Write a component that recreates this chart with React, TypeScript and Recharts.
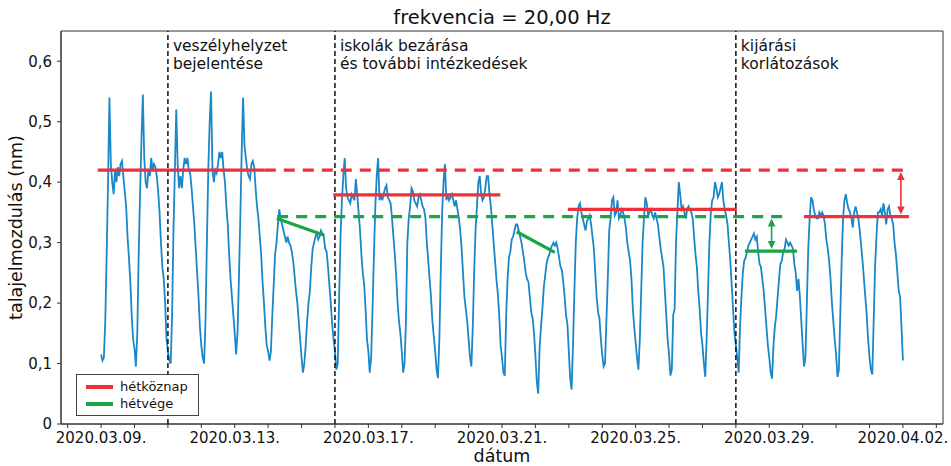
import {
  LineChart, Line, XAxis, YAxis, ReferenceLine, ReferenceArea, Legend, Label,
} from "recharts";

const FONT = "'DejaVu Sans', sans-serif";
const BLUE = "#1a87c8";
const RED = "#eb323c";
const GREEN = "#19a546";
const INK = "#111";

// hourly ground displacement (nm), 00:00 .. 23:00 each day
const mar09 = [0.115, 0.105, 0.11, 0.17, 0.28, 0.40, 0.54, 0.43, 0.40, 0.38, 0.42, 0.40, 0.425, 0.41, 0.43, 0.435, 0.41, 0.385, 0.36, 0.31, 0.275, 0.235, 0.18, 0.14];
const mar10 = [0.125, 0.095, 0.15, 0.28, 0.38, 0.47, 0.545, 0.44, 0.40, 0.39, 0.42, 0.41, 0.44, 0.42, 0.43, 0.425, 0.41, 0.385, 0.35, 0.30, 0.26, 0.24, 0.20, 0.14];
const mar11 = [0.12, 0.105, 0.10, 0.18, 0.32, 0.42, 0.52, 0.43, 0.39, 0.41, 0.39, 0.42, 0.44, 0.43, 0.44, 0.42, 0.415, 0.39, 0.36, 0.33, 0.29, 0.25, 0.21, 0.16];
const mar12 = [0.13, 0.11, 0.10, 0.17, 0.30, 0.42, 0.50, 0.55, 0.42, 0.40, 0.42, 0.415, 0.43, 0.45, 0.44, 0.45, 0.42, 0.40, 0.36, 0.33, 0.28, 0.24, 0.21, 0.18];
const mar13 = [0.15, 0.115, 0.15, 0.24, 0.34, 0.45, 0.54, 0.46, 0.44, 0.42, 0.41, 0.405, 0.43, 0.435, 0.425, 0.39, 0.36, 0.34, 0.31, 0.28, 0.235, 0.20, 0.16, 0.13];
const mar14 = [0.12, 0.105, 0.12, 0.18, 0.23, 0.28, 0.30, 0.33, 0.355, 0.34, 0.33, 0.32, 0.31, 0.30, 0.31, 0.30, 0.295, 0.285, 0.27, 0.245, 0.22, 0.20, 0.17, 0.14];
const mar15 = [0.11, 0.085, 0.10, 0.13, 0.17, 0.20, 0.22, 0.26, 0.29, 0.30, 0.31, 0.315, 0.305, 0.31, 0.32, 0.315, 0.31, 0.29, 0.285, 0.26, 0.23, 0.20, 0.165, 0.14];
const mar16 = [0.12, 0.09, 0.10, 0.21, 0.31, 0.37, 0.41, 0.44, 0.39, 0.375, 0.37, 0.365, 0.38, 0.375, 0.37, 0.405, 0.38, 0.35, 0.32, 0.28, 0.25, 0.23, 0.19, 0.14];
const mar17 = [0.12, 0.085, 0.11, 0.19, 0.28, 0.36, 0.41, 0.44, 0.37, 0.38, 0.37, 0.38, 0.39, 0.395, 0.375, 0.37, 0.365, 0.34, 0.31, 0.28, 0.245, 0.20, 0.17, 0.15];
const mar18 = [0.12, 0.085, 0.10, 0.17, 0.30, 0.34, 0.36, 0.39, 0.385, 0.37, 0.365, 0.36, 0.375, 0.38, 0.37, 0.36, 0.355, 0.34, 0.30, 0.27, 0.24, 0.21, 0.17, 0.145];
const mar19 = [0.12, 0.09, 0.076, 0.14, 0.25, 0.35, 0.40, 0.43, 0.37, 0.38, 0.37, 0.375, 0.38, 0.37, 0.36, 0.37, 0.355, 0.34, 0.32, 0.29, 0.25, 0.21, 0.19, 0.17];
const mar20 = [0.14, 0.11, 0.095, 0.16, 0.25, 0.32, 0.36, 0.40, 0.41, 0.38, 0.37, 0.375, 0.39, 0.41, 0.41, 0.38, 0.36, 0.33, 0.30, 0.27, 0.24, 0.215, 0.18, 0.13];
const mar21 = [0.11, 0.085, 0.08, 0.18, 0.24, 0.275, 0.285, 0.305, 0.31, 0.32, 0.33, 0.33, 0.32, 0.31, 0.30, 0.285, 0.27, 0.25, 0.24, 0.235, 0.21, 0.185, 0.175, 0.15];
const mar22 = [0.113, 0.07, 0.05, 0.125, 0.16, 0.19, 0.225, 0.245, 0.265, 0.275, 0.28, 0.29, 0.295, 0.30, 0.295, 0.30, 0.29, 0.275, 0.26, 0.255, 0.235, 0.21, 0.18, 0.165];
const mar23 = [0.12, 0.075, 0.057, 0.13, 0.22, 0.30, 0.34, 0.36, 0.365, 0.35, 0.34, 0.33, 0.32, 0.335, 0.34, 0.345, 0.33, 0.31, 0.29, 0.25, 0.21, 0.185, 0.175, 0.14];
const mar24 = [0.115, 0.095, 0.10, 0.17, 0.24, 0.32, 0.34, 0.37, 0.375, 0.345, 0.35, 0.37, 0.34, 0.345, 0.355, 0.35, 0.34, 0.325, 0.30, 0.285, 0.27, 0.24, 0.19, 0.16];
const mar25 = [0.135, 0.11, 0.09, 0.14, 0.22, 0.30, 0.34, 0.375, 0.365, 0.345, 0.35, 0.355, 0.345, 0.34, 0.35, 0.34, 0.33, 0.31, 0.29, 0.275, 0.26, 0.22, 0.18, 0.14];
const mar26 = [0.115, 0.08, 0.09, 0.18, 0.19, 0.30, 0.35, 0.40, 0.38, 0.355, 0.36, 0.35, 0.34, 0.355, 0.36, 0.355, 0.35, 0.34, 0.31, 0.28, 0.26, 0.22, 0.19, 0.15];
const mar27 = [0.13, 0.10, 0.078, 0.14, 0.22, 0.30, 0.35, 0.37, 0.375, 0.40, 0.39, 0.375, 0.38, 0.39, 0.40, 0.37, 0.355, 0.345, 0.33, 0.30, 0.27, 0.23, 0.19, 0.15];
const mar28 = [0.13, 0.11, 0.085, 0.16, 0.21, 0.25, 0.27, 0.275, 0.285, 0.295, 0.30, 0.305, 0.31, 0.315, 0.305, 0.31, 0.285, 0.265, 0.26, 0.24, 0.22, 0.19, 0.16, 0.13];
const mar29 = [0.11, 0.085, 0.075, 0.13, 0.16, 0.18, 0.21, 0.24, 0.265, 0.27, 0.285, 0.29, 0.305, 0.30, 0.295, 0.30, 0.295, 0.29, 0.265, 0.25, 0.22, 0.24, 0.21, 0.17];
const mar30 = [0.13, 0.095, 0.11, 0.20, 0.29, 0.34, 0.375, 0.37, 0.355, 0.345, 0.34, 0.34, 0.35, 0.345, 0.35, 0.345, 0.33, 0.305, 0.29, 0.27, 0.24, 0.20, 0.17, 0.14];
const mar31 = [0.115, 0.078, 0.09, 0.18, 0.27, 0.34, 0.37, 0.38, 0.365, 0.355, 0.35, 0.34, 0.325, 0.35, 0.36, 0.35, 0.34, 0.32, 0.295, 0.27, 0.24, 0.21, 0.18, 0.14];
const apr01 = [0.11, 0.09, 0.082, 0.17, 0.26, 0.31, 0.35, 0.35, 0.355, 0.345, 0.365, 0.35, 0.33, 0.355, 0.36, 0.345, 0.34, 0.33, 0.30, 0.28, 0.25, 0.22, 0.21, 0.16];
const apr02 = [0.105];

const days = [
  mar09, mar10, mar11, mar12, mar13, mar14, mar15, mar16, mar17, mar18, mar19, mar20,
  mar21, mar22, mar23, mar24, mar25, mar26, mar27, mar28, mar29, mar30, mar31, apr01, apr02,
];

// x axis: days counted from 2020.03.09. 00:00
const dayTicks = [-1, 0, 1, 2, 3, 4, 5, 6, 7, 8, 9, 10, 11, 12, 13, 14, 15, 16, 17, 18, 19, 20, 21, 22, 23, 24, 25];
const labelDays = [0, 4, 8, 12, 16, 20, 24];
const labelTexts = ["2020.03.09.", "2020.03.13.", "2020.03.17.", "2020.03.21.", "2020.03.25.", "2020.03.29.", "2020.04.02."];
const yTicks = [0, 0.1, 0.2, 0.3, 0.4, 0.5, 0.6];

const events = [
  { day: 2, lines: ["veszélyhelyzet", "bejelentése"] },
  { day: 7, lines: ["iskolák bezárása", "és további intézkedések"] },
  { day: 19, lines: ["kijárási", "korlátozások"] },
];

// mean weekday levels and weekend trends
const weekdayMeans = [
  { from: -0.1, to: 4.9, y: 0.42 },
  { from: 6.95, to: 11.95, y: 0.379 },
  { from: 13.97, to: 19.03, y: 0.355 },
  { from: 21.04, to: 24.18, y: 0.343 },
];
const weekendTrends = [
  { from: 5.26, to: 6.68, y1: 0.34, y2: 0.312 },
  { from: 12.44, to: 13.58, y1: 0.318, y2: 0.284 },
  { from: 19.27, to: 20.83, y1: 0.286, y2: 0.286 },
];
const weekdayBase = { from: 4.9, to: 24.18, y: 0.42 };
const weekendBase = { from: 5.27, to: 20.53, y: 0.343 };
const drops = [
  { day: 23.94, top: 0.42, bottom: 0.343, color: RED },
  { day: 20.07, top: 0.343, bottom: 0.286, color: GREEN },
];

const legendItems = [
  { name: "hétköznap", color: RED },
  { name: "hétvége", color: GREEN },
];

const data = days.flatMap((vals, d) => vals.map((v, h) => ({ t: d + h / 24, v })));

const formatDay = (d: number) => {
  const i = labelDays.indexOf(d);
  return i >= 0 ? labelTexts[i] : "";
};
const formatY = (v: number) => (v === 0 ? "0" : v.toFixed(1).replace(".", ","));

function EventText({ viewBox, lines }: any) {
  if (!viewBox) return null;
  const x = viewBox.x + 5;
  return (
    <text x={x} y={viewBox.y + 20} fontSize={15.5} fill={INK} fontFamily={FONT}>
      {lines.map((l: string, i: number) => (
        <tspan key={l} x={x} dy={i === 0 ? 0 : 18}>{l}</tspan>
      ))}
    </text>
  );
}

function DoubleArrow(props: any) {
  const { x1, y1, x2, y2, stroke } = props;
  const x = (x1 + x2) / 2;
  const top = Math.min(y1, y2) + 2;
  const bottom = Math.max(y1, y2) - 2;
  const head = 8;
  const half = 3.8;
  return (
    <g>
      <line x1={x} x2={x} y1={top + head - 1} y2={bottom - head + 1} stroke={stroke} strokeWidth={1.6} />
      <polygon points={`${x},${top} ${x - half},${top + head} ${x + half},${top + head}`} fill={stroke} />
      <polygon points={`${x},${bottom} ${x - half},${bottom - head} ${x + half},${bottom - head}`} fill={stroke} />
    </g>
  );
}

function LegendBox() {
  return (
    <div
      style={{
        width: 123, height: 42, boxSizing: "border-box", border: "1.3px solid #444",
        background: "#fff", fontFamily: FONT, fontSize: 13, color: INK, position: "relative",
      }}
    >
      {legendItems.map((item, i) => (
        <div
          key={item.name}
          style={{ position: "absolute", left: 9, top: 5 + i * 17, height: 14, display: "flex", alignItems: "center" }}
        >
          <span style={{ display: "inline-block", width: 27, height: 3.2, background: item.color, marginRight: 7 }} />
          <span style={{ lineHeight: "14px" }}>{item.name}</span>
        </div>
      ))}
    </div>
  );
}

export default function App() {
  return (
    <div style={{ position: "absolute", left: 0, top: 0, width: 951, height: 466, fontFamily: FONT, background: "#fff" }}>
      <div
        style={{
          position: "absolute", left: 61, width: 882, top: 6, textAlign: "center",
          fontSize: 19.5, lineHeight: "24px", color: INK,
        }}
      >
        frekvencia = 20,00 Hz
      </div>
      <LineChart width={951} height={466} data={data} margin={{ top: 31, right: 8, bottom: 0, left: 0 }}>
        <XAxis
          dataKey="t"
          type="number"
          domain={[-1.2, 25.2]}
          allowDataOverflow
          ticks={dayTicks}
          interval={0}
          tickFormatter={formatDay}
          tick={{ fontSize: 15, fill: INK, fontFamily: FONT }}
          tickSize={4}
          tickMargin={4.5}
          height={42}
          stroke="#333"
        >
          <Label value="dátum" position="insideBottom" offset={4} fontSize={17.5} fill={INK} fontFamily={FONT} />
        </XAxis>
        <YAxis
          type="number"
          domain={[0, 0.65]}
          allowDataOverflow
          ticks={yTicks}
          interval={0}
          tickFormatter={formatY}
          tick={{ fontSize: 15, fill: INK, fontFamily: FONT }}
          tickSize={4}
          tickMargin={5}
          width={61}
          stroke="#333"
        >
          <Label
            value="talajelmozdulás (nm)"
            angle={-90}
            position="insideLeft"
            offset={16}
            fontSize={17.5}
            fill={INK}
            fontFamily={FONT}
            style={{ textAnchor: "middle" }}
          />
        </YAxis>
        <ReferenceArea x1={-1.2} x2={25.2} y1={0} y2={0.65} fill="none" stroke="#333" strokeWidth={1} />
        <Line
          dataKey="v"
          type="linear"
          stroke={BLUE}
          strokeWidth={1.8}
          dot={false}
          activeDot={false}
          isAnimationActive={false}
        />
        {events.map((e) => (
          <ReferenceLine
            key={e.day}
            x={e.day}
            stroke="#111"
            strokeWidth={1.5}
            strokeDasharray="5 3"
            label={(p: any) => <EventText {...p} lines={e.lines} />}
          />
        ))}
        <ReferenceLine
          segment={[{ x: weekdayBase.from, y: weekdayBase.y }, { x: weekdayBase.to, y: weekdayBase.y }]}
          stroke={RED}
          strokeWidth={3.2}
          strokeDasharray="11 8"
        />
        <ReferenceLine
          segment={[{ x: weekendBase.from, y: weekendBase.y }, { x: weekendBase.to, y: weekendBase.y }]}
          stroke={GREEN}
          strokeWidth={3.2}
          strokeDasharray="11 8"
        />
        {weekdayMeans.map((s) => (
          <ReferenceLine
            key={`wd${s.from}`}
            segment={[{ x: s.from, y: s.y }, { x: s.to, y: s.y }]}
            stroke={RED}
            strokeWidth={3.2}
          />
        ))}
        {weekendTrends.map((s) => (
          <ReferenceLine
            key={`we${s.from}`}
            segment={[{ x: s.from, y: s.y1 }, { x: s.to, y: s.y2 }]}
            stroke={GREEN}
            strokeWidth={3.2}
          />
        ))}
        {drops.map((a) => (
          <ReferenceLine
            key={`ar${a.day}`}
            segment={[{ x: a.day, y: a.top }, { x: a.day, y: a.bottom }]}
            stroke={a.color}
            shape={(p: any) => <DoubleArrow {...p} />}
          />
        ))}
        <Legend
          layout="vertical"
          align="center"
          verticalAlign="middle"
          content={() => <LegendBox />}
          wrapperStyle={{ left: 76, top: 374, width: 123, height: 42 }}
        />
      </LineChart>
    </div>
  );
}
